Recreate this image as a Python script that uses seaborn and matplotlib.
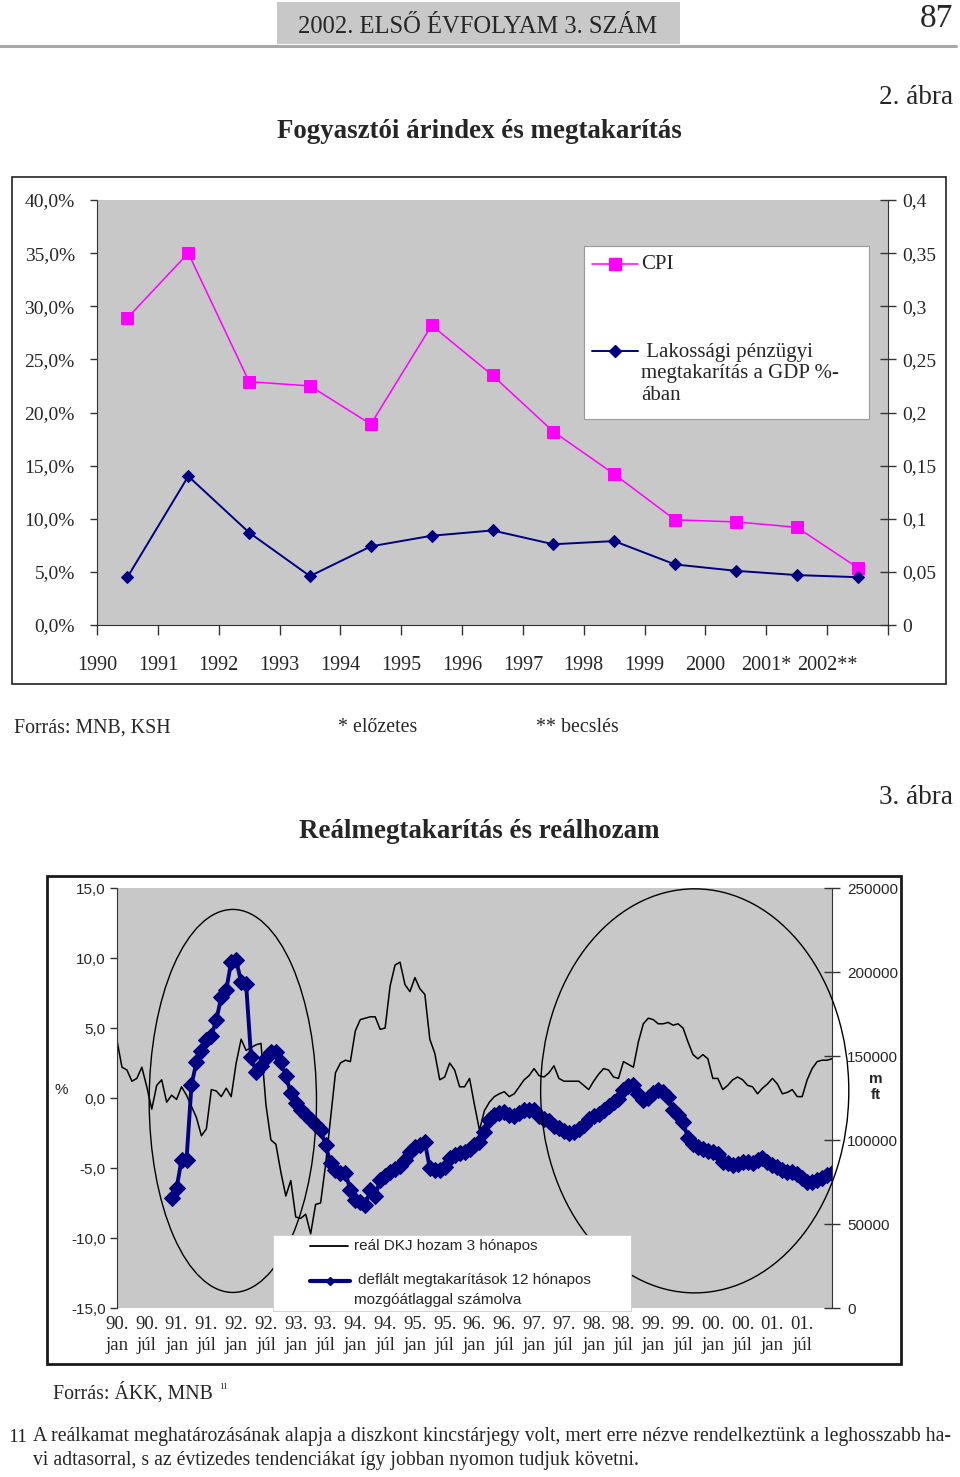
import numpy as np
import matplotlib.pyplot as plt
import seaborn as sns
from matplotlib.patches import Rectangle, Ellipse
from matplotlib.lines import Line2D

# --- data: chart 1 (yearly) ---
years = ['1990', '1991', '1992', '1993', '1994', '1995', '1996',
         '1997', '1998', '1999', '2000', '2001*', '2002**']
cpi = [28.9, 35.0, 22.9, 22.5, 18.9, 28.2, 23.5, 18.2, 14.2, 9.9, 9.7, 9.2, 5.4]
savings_gdp = [4.5, 14.0, 8.7, 4.6, 7.4, 8.4, 8.9, 7.6, 7.9, 5.7, 5.1, 4.7, 4.5]

# --- data: chart 2 (monthly, 1990 jan .. 2002 jan) ---
dkj_real = [4.1, 2.2, 2.0, 1.2, 1.4, 2.2, 0.8, -0.8, 0.9, 1.3,
            -0.3, 0.2, -0.1, 0.8, 0.2, -0.6, -1.4, -2.7, -2.2, 0.6,
            0.5, 0.1, 0.7, 0.1, 2.5, 4.2, 3.4, 3.6, 3.8, 3.9,
            -0.5, -3.0, -3.3, -5.3, -7.0, -5.9, -8.5, -8.6, -8.3, -9.7,
            -7.6, -7.5, -4.8, -1.5, 1.8, 2.5, 2.7, 2.6, 4.8, 5.6,
            5.7, 5.8, 5.8, 4.9, 5.0, 8.0, 9.5, 9.7, 8.1, 7.6,
            8.6, 7.8, 7.4, 4.2, 3.2, 1.3, 1.5, 2.5, 2.0, 0.8,
            0.8, 1.4, -0.5, -2.3, -0.9, -0.3, 0.1, 0.3, 0.45, 0.1,
            0.3, 0.8, 1.3, 1.6, 2.1, 1.6, 1.5, 1.8, 2.3, 1.4,
            1.2, 1.2, 1.2, 1.2, 0.9, 0.6, 1.2, 1.7, 2.1, 2.0,
            1.5, 1.4, 2.6, 2.4, 2.2, 4.0, 5.3, 5.7, 5.6, 5.3,
            5.3, 5.4, 5.2, 5.3, 5.0, 4.0, 3.1, 2.8, 3.1, 2.8,
            1.4, 1.4, 0.6, 0.9, 1.3, 1.5, 1.3, 0.9, 0.8, 0.3,
            0.7, 1.0, 1.4, 1.0, 0.3, 0.4, 0.6, 0.1, 0.1, 1.3,
            2.1, 2.6, 2.7, 2.7, 2.8]

# 12-month moving average starts in 1990 dec (month index 11)
savings_defl = [65500, 71400, 88100, 88100, 132700, 146400, 153000, 159500, 161900, 171400,
                185100, 189300, 206000, 207100, 194000, 192900, 149400, 140500, 144000, 148800,
                152400, 152400, 146400, 138100, 128000, 122000, 117900, 114900, 111900, 108900,
                106000, 97000, 86300, 82100, 80400, 80400, 70200, 64300, 63100, 61300,
                70200, 66700, 76200, 78600, 81000, 82700, 84500, 88100, 92900, 95800,
                97000, 98800, 83300, 82100, 82100, 83900, 89300, 91100, 92300, 92900,
                94600, 97000, 98800, 104800, 111900, 114900, 116100, 116700, 114900, 114300,
                116100, 117900, 117900, 117900, 114300, 112500, 111300, 108300, 107100, 105400,
                104200, 104800, 106500, 108900, 112500, 114300, 115500, 117900, 120200, 122600,
                124400, 129800, 132100, 132700, 127400, 123800, 125000, 128000, 129800, 128600,
                125600, 117900, 114900, 110700, 101200, 97600, 95800, 94600, 93500, 92900,
                91700, 86900, 86300, 85100, 85700, 86900, 86900, 86300, 88100, 89300,
                86900, 85100, 83900, 82100, 81000, 81000, 79800, 77400, 75000, 75000,
                76200, 77400, 79200, 80400]

tick_years = ['90', '91', '92', '93', '94', '95', '96', '97', '98', '99', '00', '01']
half_names = ['jan', 'júl']

sns.set_style("ticks")
plt.rcParams['font.family'] = ['Liberation Serif', 'DejaVu Serif']

W, H = 960, 1477
fig = plt.figure(figsize=(W / 100, H / 100), dpi=100)


def fx(px):
    return px / W


def fy(py):
    return 1 - py / H


def box(x0, y0, x1, y1):
    return [fx(x0), fy(y1), fx(x1) - fx(x0), fy(y0) - fy(y1)]


GRAY = '#c8c8c8'
NAVY = '#000080'
MAG = '#ff00ff'
SANS = 'Liberation Sans'

# ---------------- page header ----------------
fig.patches.append(Rectangle((fx(277), fy(44)), fx(680) - fx(277), fy(2) - fy(44),
                             transform=fig.transFigure, fc=GRAY, ec='none'))
fig.lines.append(Line2D([0, fx(956)], [fy(46), fy(46)], transform=fig.transFigure,
                        color='#a8a8a8', lw=2.2))
fig.text(fx(478), fy(27), '2002. ELSŐ ÉVFOLYAM 3. SZÁM', ha='center', va='center', fontsize=17.7)
fig.text(fx(953), fy(19), '87', ha='right', va='center', fontsize=24)

# ---------------- chart 1 ----------------
fig.text(fx(953), fy(97), '2. ábra', ha='right', va='center', fontsize=19.5)
fig.text(fx(479), fy(132), 'Fogyasztói árindex és megtakarítás', ha='center', va='center',
         fontsize=19.4, fontweight='bold')
fig.patches.append(Rectangle((fx(12), fy(684)), fx(946) - fx(12), fy(177) - fy(684),
                             transform=fig.transFigure, fill=False, ec='#222222', lw=1.2))

ax1 = fig.add_axes(box(97, 200, 888, 625))
ax1.set_facecolor(GRAY)
xpos = np.arange(len(years))
sns.lineplot(x=xpos, y=cpi, ax=ax1, color=MAG, lw=1.1, marker='s', markersize=8,
             markeredgecolor=MAG)
sns.lineplot(x=xpos, y=savings_gdp, ax=ax1, color=NAVY, lw=1.4, marker='D', markersize=6,
             markeredgecolor=NAVY)
ax1.set_xlim(-0.5, len(years) - 0.5)
ax1.set_ylim(0, 40)
ax1.set_yticks(np.arange(0, 41, 5))
ax1.set_yticklabels([f'{v:.1f}%'.replace('.', ',') for v in np.arange(0, 41, 5)], fontsize=14)
# category labels sit on the boundary tick marks, as in the original
ax1.set_xticks(np.arange(-0.5, len(years), 1))
ax1.set_xticklabels(years + [''], fontsize=14.5)
ax1.tick_params(axis='x', length=7, width=1, color='#333333', pad=15)
ax1.tick_params(axis='y', length=5, width=1, color='#333333', pad=11)
ax1.set_xlabel('')
ax1.set_ylabel('')
for s in ['top', 'right']:
    ax1.spines[s].set_visible(False)
for s in ['left', 'bottom']:
    ax1.spines[s].set_color('#333333')

ax1r = ax1.twinx()
ax1r.set_ylim(0, 0.4)
r_ticks = [0, 0.05, 0.1, 0.15, 0.2, 0.25, 0.3, 0.35, 0.4]
ax1r.set_yticks(r_ticks)
ax1r.set_yticklabels(['0', '0,05', '0,1', '0,15', '0,2', '0,25', '0,3', '0,35', '0,4'], fontsize=14)
ax1r.tick_params(axis='y', direction='inout', length=12, width=1, color='#333333', pad=4)
for s in ['top', 'left', 'bottom']:
    ax1r.spines[s].set_visible(False)
ax1r.spines['right'].set_color('#333333')

# legend chart 1
ax1r.add_patch(Rectangle((0.6157, 0.4847), 0.3603, 0.4071, transform=ax1r.transAxes,
                         fc='white', ec='#9a9a9a', lw=0.8, zorder=5))
ax1r.add_line(Line2D([0.6258, 0.6839], [0.8494, 0.8494], transform=ax1r.transAxes,
                     color=MAG, lw=1.1, zorder=6))
ax1r.add_line(Line2D([0.6549], [0.8494], transform=ax1r.transAxes, color=MAG, marker='s',
                     markersize=8, zorder=6))
ax1r.text(0.6877, 0.8494, 'CPI', transform=ax1r.transAxes, va='center', fontsize=15, zorder=7)
ax1r.add_line(Line2D([0.6258, 0.6839], [0.6447, 0.6447], transform=ax1r.transAxes,
                     color=NAVY, lw=1.4, zorder=6))
ax1r.add_line(Line2D([0.6549], [0.6447], transform=ax1r.transAxes, color=NAVY, marker='D',
                     markersize=6, zorder=6))
ax1r.text(0.6877, 0.5906, ' Lakossági pénzügyi\nmegtakarítás a GDP %-\nában', transform=ax1r.transAxes,
          va='center', fontsize=15, linespacing=1.2, zorder=7)

fig.text(fx(14), fy(728), 'Forrás: MNB, KSH', va='center', fontsize=14.3)
fig.text(fx(338), fy(728), '* előzetes', va='center', fontsize=14.3)
fig.text(fx(536), fy(728), '** becslés', va='center', fontsize=14.3)

# ---------------- chart 2 ----------------
fig.text(fx(953), fy(797), '3. ábra', ha='right', va='center', fontsize=19.5)
fig.text(fx(479), fy(831), 'Reálmegtakarítás és reálhozam', ha='center', va='center',
         fontsize=19.4, fontweight='bold')
fig.patches.append(Rectangle((fx(47), fy(1364)), fx(901) - fx(47), fy(876) - fy(1364),
                             transform=fig.transFigure, fill=False, ec='#1a1a1a', lw=2))

ax2 = fig.add_axes(box(117, 888, 832, 1308))
ax2.set_facecolor(GRAY)
months = np.arange(len(dkj_real))
sns.lineplot(x=months, y=dkj_real, ax=ax2, color='black', lw=1.1)
ax2.set_xlim(0, len(dkj_real) - 1)
ax2.set_ylim(-15, 15)
lt = np.arange(-15, 16, 5)
ax2.set_yticks(lt)
ax2.set_yticklabels([f'{v:.1f}'.replace('.', ',') for v in lt], fontsize=11, family=SANS)
tick_pos = np.arange(0, len(tick_years) * 12, 6)
tick_lab = [f'{y}.\n{h}' for y in tick_years for h in half_names]
ax2.set_xticks(tick_pos)
ax2.set_xticklabels(tick_lab, fontsize=13.5, linespacing=1.28)
ax2.tick_params(axis='x', length=0, pad=6)
ax2.tick_params(axis='y', length=5, width=1, color='#333333', pad=3)
ax2.set_xlabel('')
ax2.set_ylabel('')
for s in ['top', 'right', 'bottom']:
    ax2.spines[s].set_visible(False)
ax2.spines['left'].set_color('#333333')

ax2r = ax2.twinx()
sns.lineplot(x=np.arange(11, 11 + len(savings_defl)), y=savings_defl, ax=ax2r, color=NAVY,
             lw=2.8, marker='D', markersize=8, markeredgecolor=NAVY)
ax2r.set_ylim(0, 250000)
rt = np.arange(0, 250001, 50000)
ax2r.set_yticks(rt)
ax2r.set_yticklabels([str(v) for v in rt], fontsize=11, family=SANS)
ax2r.tick_params(axis='y', direction='inout', length=12, width=1, color='#333333', pad=5)
ax2r.set_xlabel('')
ax2r.set_ylabel('')
for s in ['top', 'left', 'bottom']:
    ax2r.spines[s].set_visible(False)
ax2r.spines['right'].set_color('#333333')

fig.text(fx(61), fy(1090), '%', ha='center', va='center', fontsize=11, family=SANS)
fig.text(fx(876), fy(1087), 'm\nft', ha='center', va='center', fontsize=11, family=SANS,
         fontweight='bold', linespacing=1.1)

# highlighted periods
ax2r.add_patch(Ellipse((0.162, 0.493), 0.234, 0.912, transform=ax2r.transAxes, fill=False,
                       ec='black', lw=1, clip_on=False, zorder=4))
ax2r.add_patch(Ellipse((0.808, 0.517), 0.431, 0.962, transform=ax2r.transAxes, fill=False,
                       ec='black', lw=1, clip_on=False, zorder=4))

# legend chart 2
ax2r.add_patch(Rectangle((0.2182, -0.007), 0.5007, 0.1808, transform=ax2r.transAxes,
                         fc='white', ec='#cccccc', lw=0.6, clip_on=False, zorder=5))
ax2r.add_line(Line2D([0.270, 0.323], [0.1476, 0.1476], transform=ax2r.transAxes,
                     color='black', lw=1.3, zorder=6))
ax2r.text(0.3315, 0.1476, 'reál DKJ hozam 3 hónapos', transform=ax2r.transAxes, va='center',
          fontsize=11, family=SANS, zorder=7)
ax2r.add_line(Line2D([0.270, 0.326], [0.0643, 0.0643], transform=ax2r.transAxes,
                     color=NAVY, lw=3, zorder=6))
ax2r.add_line(Line2D([0.298], [0.0643], transform=ax2r.transAxes, color=NAVY, marker='D',
                     markersize=4.5, zorder=6))
ax2r.text(0.337, 0.0667, 'deflált megtakarítások 12 hónapos', transform=ax2r.transAxes,
          va='center', fontsize=11, family=SANS, zorder=7)
ax2r.text(0.3315, 0.019, 'mozgóátlaggal számolva', transform=ax2r.transAxes, va='center',
          fontsize=11, family=SANS, zorder=7)

fig.text(fx(53), fy(1393), 'Forrás: ÁKK, MNB', va='center', fontsize=14.3)
fig.text(fx(219), fy(1387), '11', va='center', fontsize=6.5)

# footnote
fig.text(fx(8), fy(1437), '11', va='center', fontsize=14)
fig.text(fx(33), fy(1437), 'A reálkamat meghatározásának alapja a diszkont kincstárjegy volt, '
         'mert erre nézve rendelkeztünk a leghosszabb ha-', va='center', fontsize=14.2)
fig.text(fx(33), fy(1461), 'vi adtasorral, s az évtizedes tendenciákat így jobban nyomon tudjuk követni.',
         va='center', fontsize=14.2)

fig.savefig('out.png', dpi=100)
